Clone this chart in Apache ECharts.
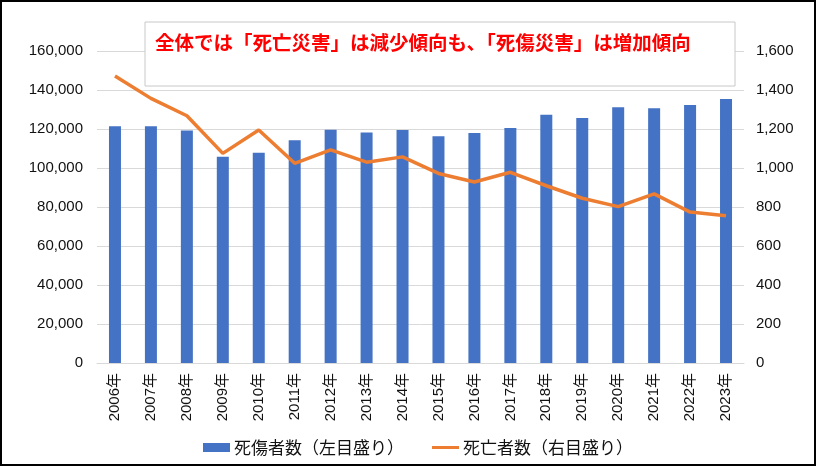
<!DOCTYPE html>
<html>
<head>
<meta charset="utf-8">
<script src="https://cdn.jsdelivr.net/npm/echarts@6/dist/echarts.min.js"></script>
<style>
  html, body { margin: 0; padding: 0; background: #fff; }
  #chart { width: 818px; height: 471px; }
</style>
</head>
<body>
<div id="chart"></div>
<script>
// 年
var years = ['2006年', '2007年', '2008年', '2009年', '2010年', '2011年', '2012年', '2013年', '2014年',
  '2015年', '2016年', '2017年', '2018年', '2019年', '2020年', '2021年', '2022年', '2023年'];
// 死傷者数（左目盛り）
var injured = [121378, 121356, 119291, 105718, 107759, 114176, 119576, 118157, 119535,
  116311, 117910, 120460, 127329, 125611, 131156, 130586, 132355, 135371];
// 死亡者数（右目盛り）
var deaths = [1472, 1357, 1268, 1075, 1195, 1024, 1093, 1030, 1057,
  972, 928, 978, 909, 845, 802, 867, 774, 755];

var titleText = '全体では「死亡災害」は減少傾向も、「死傷災害」は増加傾向';

var font = "'Liberation Sans', 'Noto Sans CJK JP', sans-serif";
var cjk = "'Noto Sans CJK JP', sans-serif";

var myChart = echarts.init(document.getElementById('chart'));

var options = {
  animation: false,
  backgroundColor: '#fff',
  grid: { left: 97, right: 74, top: 51, bottom: 108 },
  legend: {
    top: 434,
    left: 198,
    itemWidth: 27,
    itemHeight: 9,
    itemGap: 28,
    textStyle: { fontFamily: cjk, fontSize: 17, color: '#111', padding: [0, 0, 0, -1] },
    data: [
      { name: '死傷者数（左目盛り）', icon: 'rect' },
      { name: '死亡者数（右目盛り）', icon: 'path://M0,0L0,0M0,9L0,9M0,3H27V6H0Z' }
    ]
  },
  xAxis: {
    type: 'category',
    data: years,
    axisLine: { lineStyle: { color: '#d9d9d9' } },
    axisTick: { show: false },
    axisLabel: { rotate: 90, color: '#111', fontSize: 15, fontFamily: font, margin: 10 }
  },
  yAxis: [
    {
      type: 'value', min: 0, max: 160000, interval: 20000,
      axisLine: { show: false }, axisTick: { show: false },
      splitLine: { lineStyle: { color: '#d9d9d9' } },
      axisLabel: {
        color: '#111', fontSize: 15, fontFamily: font, margin: 14,
        formatter: function (v) { return v.toLocaleString('en-US'); }
      }
    },
    {
      type: 'value', min: 0, max: 1600, interval: 200,
      axisLine: { show: false }, axisTick: { show: false },
      splitLine: { show: false },
      axisLabel: {
        color: '#111', fontSize: 15, fontFamily: font, margin: 12,
        formatter: function (v) { return v.toLocaleString('en-US'); }
      }
    }
  ],
  series: [
    {
      name: '死傷者数（左目盛り）',
      type: 'bar',
      data: injured,
      barWidth: 12,
      itemStyle: { color: '#4472C4' }
    },
    {
      name: '死亡者数（右目盛り）',
      type: 'line',
      yAxisIndex: 1,
      data: deaths,
      symbol: 'none',
      lineStyle: { color: '#ED7D31', width: 3.5 },
      itemStyle: { color: '#ED7D31' },
      z: 3
    }
  ],
  graphic: [
    {
      type: 'rect', z: 100,
      shape: { x: 145, y: 22, width: 590, height: 64 },
      style: { fill: '#fff', stroke: '#c8c8c8', lineWidth: 1 }
    },
    {
      type: 'text', z: 101, left: 155, top: 33,
      style: { text: titleText, fill: '#ff0000', font: 'bold 19.5px ' + cjk }
    },
    {
      type: 'rect', z: 102,
      shape: { x: 1, y: 1, width: 814, height: 464 },
      style: { fill: 'none', stroke: '#000', lineWidth: 2 }
    }
  ]
};

myChart.setOption(options);
</script>
</body>
</html>
